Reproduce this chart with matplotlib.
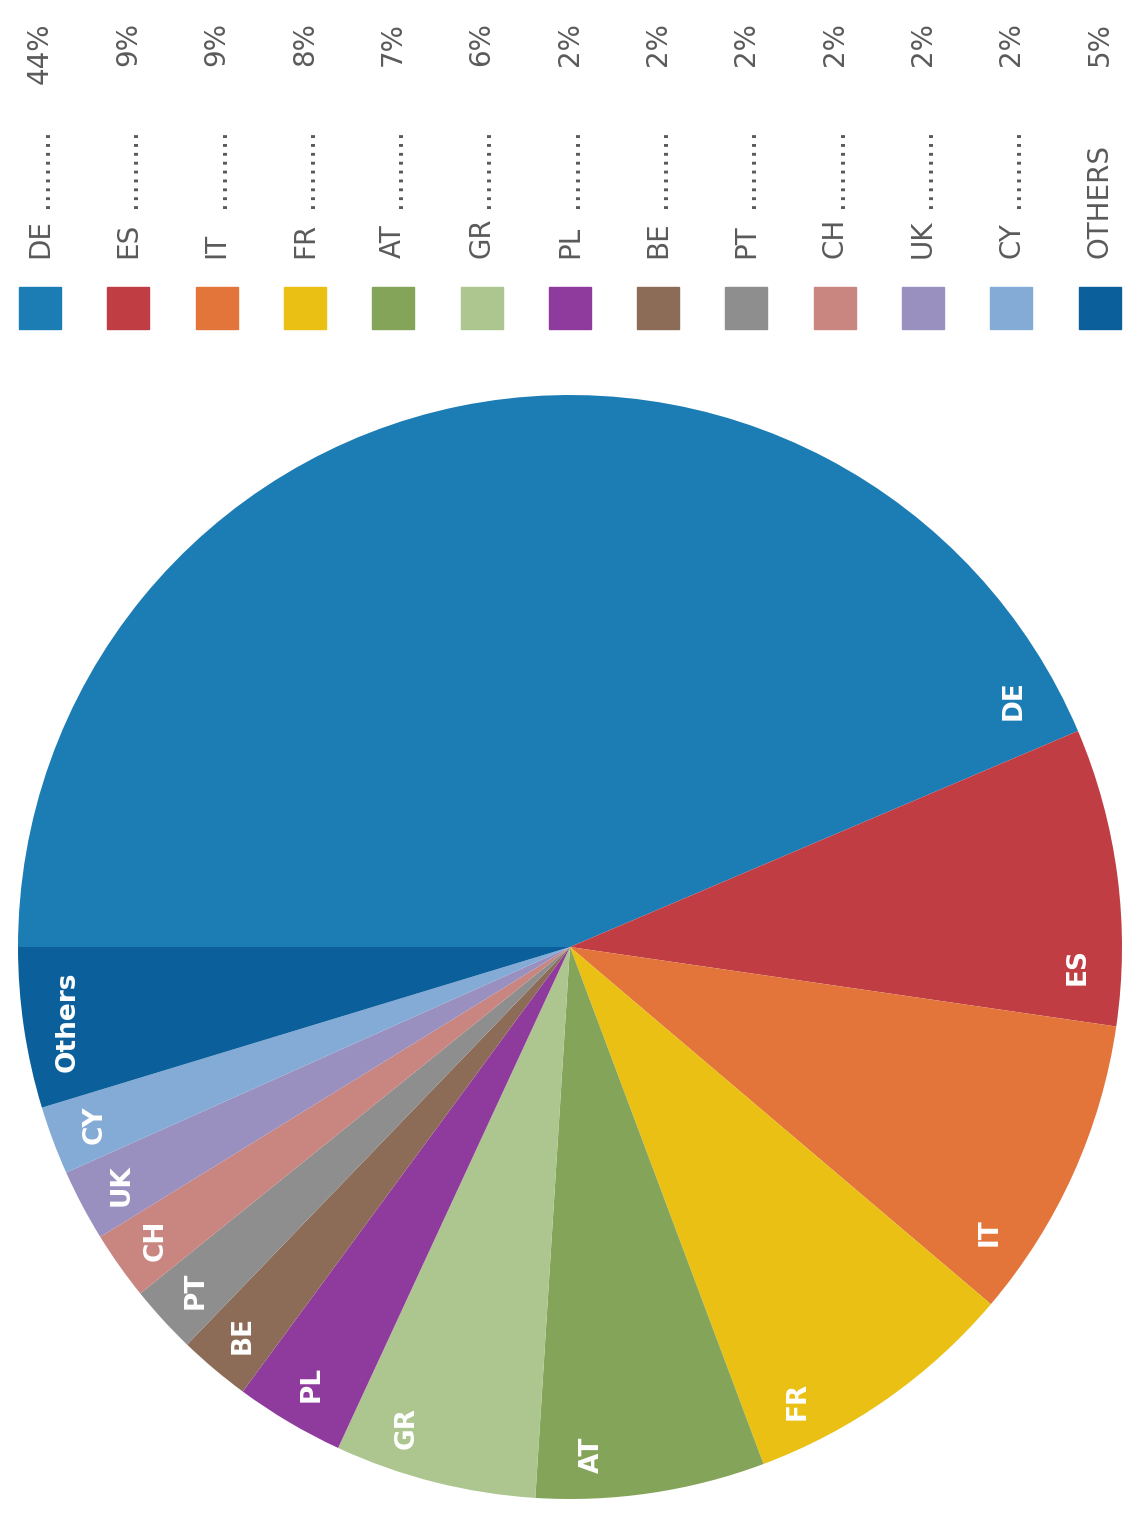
import numpy as np
import matplotlib
matplotlib.use("Agg")
import matplotlib.pyplot as plt
from matplotlib.patches import Rectangle

# data
countries = ["DE", "ES", "IT", "FR", "AT", "GR", "PL", "BE", "PT", "CH", "UK", "CY", "Others"]
legend_names = ["DE", "ES", "IT", "FR", "AT", "GR", "PL", "BE", "PT", "CH", "UK", "CY", "OTHERS"]
shares = [43.6, 8.7, 8.9, 8.1, 6.7, 5.9, 3.2, 2.1, 2.0, 2.0, 2.1, 2.0, 4.7]
share_labels = ["44%", "9%", "9%", "8%", "7%", "6%", "2%", "2%", "2%", "2%", "2%", "2%", "5%"]
colors = ["#1c7db5", "#c13d44", "#e3753b", "#e9c013", "#84a459", "#adc690",
          "#8f3a9d", "#8d6c57", "#8e8e8e", "#c98580", "#9a90c0", "#84aad6", "#0b609c"]

W, H = 1123, 1514
fig = plt.figure(figsize=(W / 100, H / 100), dpi=100)

# pie (chart is drawn turned by 90 degrees, like the reference)
cx, cy, R = 570, 947, 552
ax = fig.add_axes([(cx - R) / W, (H - cy - R) / H, 2 * R / W, 2 * R / H])
wedges, _ = ax.pie(shares, colors=colors, startangle=180, counterclock=False,
                   radius=1.0, wedgeprops=dict(linewidth=0))
ax.set_xlim(-1, 1)
ax.set_ylim(-1, 1)
ax.set_aspect("equal")
ax.axis("off")

# labels sit near the clockwise end of each wedge
for w, name in zip(wedges, countries):
    span = w.theta2 - w.theta1
    ang = np.deg2rad(w.theta1 + min(span / 2, 4.5 + 0.8 * len(name)))
    r = 0.92
    ax.text(r * np.cos(ang), r * np.sin(ang), name, rotation=90,
            ha="center", va="center", color="white", fontsize=19,
            fontweight="bold", family="DejaVu Sans")

# legend (rotated, along the top)
lax = fig.add_axes([0, 0, 1, 1])
lax.set_xlim(0, W)
lax.set_ylim(H, 0)
lax.axis("off")
x0, step = 40, 88.3
for i, (name, pct, col) in enumerate(zip(legend_names, share_labels, colors)):
    x = x0 + i * step
    lax.add_patch(Rectangle((x - 21, 287), 42, 42, color=col))
    lax.text(x, 258, name, rotation=90, rotation_mode="anchor", ha="left",
             va="center", fontsize=20, color="#5a5a5a")
    if name != "OTHERS":
        lax.text(x, 208, "." * 9, rotation=90, rotation_mode="anchor",
                 ha="left", va="center", fontsize=20, color="#5a5a5a")
    lax.text(x, 22, pct, rotation=90, rotation_mode="anchor", ha="right",
             va="center", fontsize=20, color="#5a5a5a")

fig.savefig("out.png", dpi=100)
